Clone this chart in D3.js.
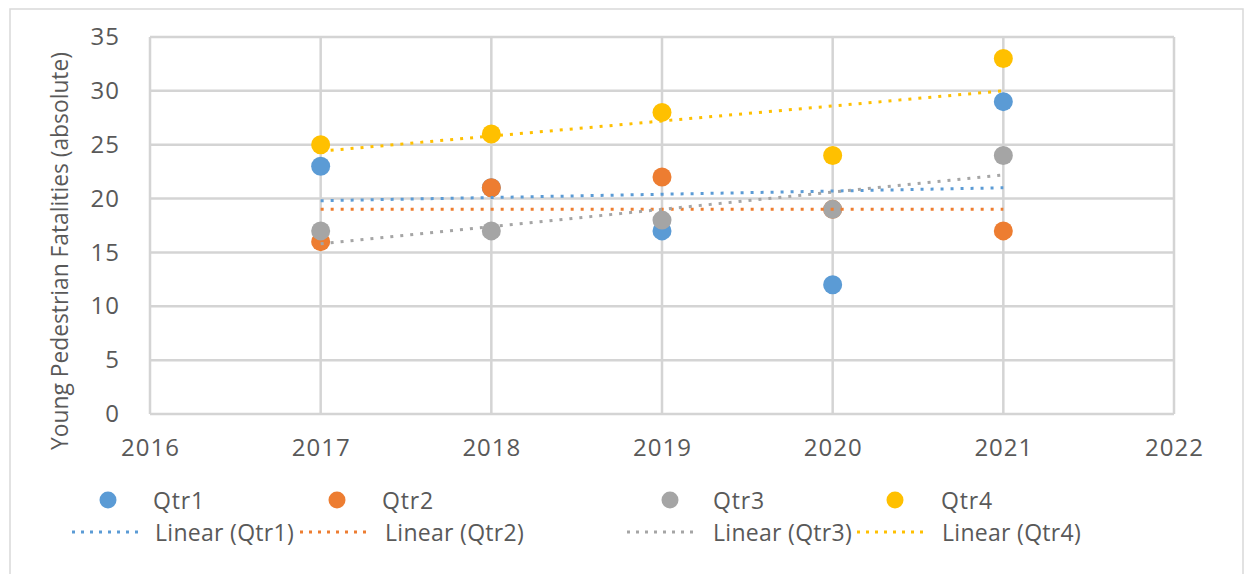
<!DOCTYPE html>
<html>
<head>
<meta charset="utf-8">
<script src="https://cdn.jsdelivr.net/npm/d3@7"></script>
<style>
  body { margin: 0; background: #fff; }
  text { font-family: "Open Sans", "Noto Sans", sans-serif; fill: #595959; }
</style>
</head>
<body>
<div id="chart"></div>
<script>
// values
var years = [2017, 2018, 2019, 2020, 2021];
var qtr1 = [23, 21, 17, 12, 29];
var qtr2 = [16, 21, 22, 19, 17];
var qtr3 = [17, 17, 18, 19, 24];
var qtr4 = [25, 26, 28, 24, 33];
var seriesNames = ["Qtr1", "Qtr2", "Qtr3", "Qtr4"];
var seriesColors = ["#5b9bd5", "#ed7d31", "#a5a5a5", "#ffc000"];
var xTicks = [2016, 2017, 2018, 2019, 2020, 2021, 2022];
var yTicks = [0, 5, 10, 15, 20, 25, 30, 35];

var width = 1244, height = 574;
var margin = {top: 37, right: 70, bottom: 160, left: 150};

var svg = d3.select("#chart").append("svg")
    .attr("width", width)
    .attr("height", height);

// outer chart border
svg.append("rect")
    .attr("x", 10).attr("y", 9)
    .attr("width", 1233).attr("height", 600)
    .attr("fill", "none")
    .attr("stroke", "#d9d9d9")
    .attr("stroke-width", 1.5);

var x = d3.scaleLinear()
    .domain([2016, 2022])
    .range([margin.left, width - margin.right]);

var y = d3.scaleLinear()
    .domain([0, 35])
    .range([height - margin.bottom, margin.top]);

// grid
svg.append("g").selectAll("line")
    .data(yTicks)
    .enter().append("line")
    .attr("x1", x(2016)).attr("x2", x(2022))
    .attr("y1", function(d) { return y(d); })
    .attr("y2", function(d) { return y(d); })
    .attr("stroke", "#d4d4d4")
    .attr("stroke-width", 2.5);

svg.append("g").selectAll("line")
    .data(xTicks)
    .enter().append("line")
    .attr("x1", function(d) { return x(d); })
    .attr("x2", function(d) { return x(d); })
    .attr("y1", y(0)).attr("y2", y(35))
    .attr("stroke", "#d4d4d4")
    .attr("stroke-width", 2.5);

// axes (tick labels only, lines are the grid)
var xAxis = svg.append("g")
    .attr("transform", "translate(0," + y(0) + ")")
    .call(d3.axisBottom(x).tickValues(xTicks).tickFormat(d3.format("d")).tickSize(0).tickPadding(25));
xAxis.select(".domain").remove();

var yAxis = svg.append("g")
    .attr("transform", "translate(" + x(2016) + ",0)")
    .call(d3.axisLeft(y).tickValues(yTicks).tickSize(0).tickPadding(30));
yAxis.select(".domain").remove();

xAxis.attr("font-family", null).attr("font-size", null);
yAxis.attr("font-family", null).attr("font-size", null);
svg.selectAll(".tick text")
    .attr("font-size", 24)
    .attr("letter-spacing", 1)
    .attr("fill", "#595959");

svg.append("text")
    .attr("transform", "translate(68," + 251 + ") rotate(-90)")
    .attr("text-anchor", "middle")
    .attr("font-size", 23)
    .attr("textLength", 398)
    .attr("lengthAdjust", "spacingAndGlyphs")
    .attr("fill", "#404040")
    .text("Young Pedestrian Fatalities (absolute)");

var allSeries = [qtr1, qtr2, qtr3, qtr4];

// least squares trend line, as Excel's Linear trendline
function linearFit(xs, ys) {
    var mx = d3.mean(xs), my = d3.mean(ys);
    var num = d3.sum(xs, function(v, i) { return (v - mx) * (ys[i] - my); });
    var den = d3.sum(xs, function(v) { return (v - mx) * (v - mx); });
    var slope = num / den;
    return function(v) { return my + slope * (v - mx); };
}

// markers
allSeries.forEach(function(vals, si) {
    svg.append("g").selectAll("circle")
        .data(vals)
        .enter().append("circle")
        .attr("cx", function(d, i) { return x(years[i]); })
        .attr("cy", function(d) { return y(d); })
        .attr("r", 9.5)
        .attr("fill", seriesColors[si]);
});

// trend lines
var line = d3.line()
    .x(function(d) { return x(d[0]); })
    .y(function(d) { return y(d[1]); });

allSeries.forEach(function(vals, si) {
    var f = linearFit(years, vals);
    var x0 = d3.min(years), x1 = d3.max(years);
    svg.append("path")
        .attr("d", line([[x0, f(x0)], [x1, f(x1)]]))
        .attr("fill", "none")
        .attr("stroke", seriesColors[si])
        .attr("stroke-width", 3)
        .attr("stroke-dasharray", "3,7");
});

// legend
var legendMarkerX = [108, 337, 670, 895];
var legendTextX = [153, 382, 713, 941];
var legendLineX = [[72, 143], [300, 370], [627, 699], [857, 927]];
var legendLineTextX = [155, 385, 713, 942];

seriesNames.forEach(function(name, i) {
    svg.append("circle")
        .attr("cx", legendMarkerX[i]).attr("cy", 500)
        .attr("r", 8.5)
        .attr("fill", seriesColors[i]);
    svg.append("text")
        .attr("x", legendTextX[i]).attr("y", 501)
        .attr("dy", "0.35em")
        .attr("font-size", 23)
        .attr("letter-spacing", 0.8)
        .text(name);
    svg.append("line")
        .attr("x1", legendLineX[i][0]).attr("x2", legendLineX[i][1])
        .attr("y1", 532).attr("y2", 532)
        .attr("stroke", seriesColors[i])
        .attr("stroke-width", 3)
        .attr("stroke-dasharray", "3,6");
    svg.append("text")
        .attr("x", legendLineTextX[i]).attr("y", 533)
        .attr("dy", "0.35em")
        .attr("font-size", 23)
        .attr("letter-spacing", 0.3)
        .text("Linear (" + name + ")");
});
</script>
</body>
</html>
